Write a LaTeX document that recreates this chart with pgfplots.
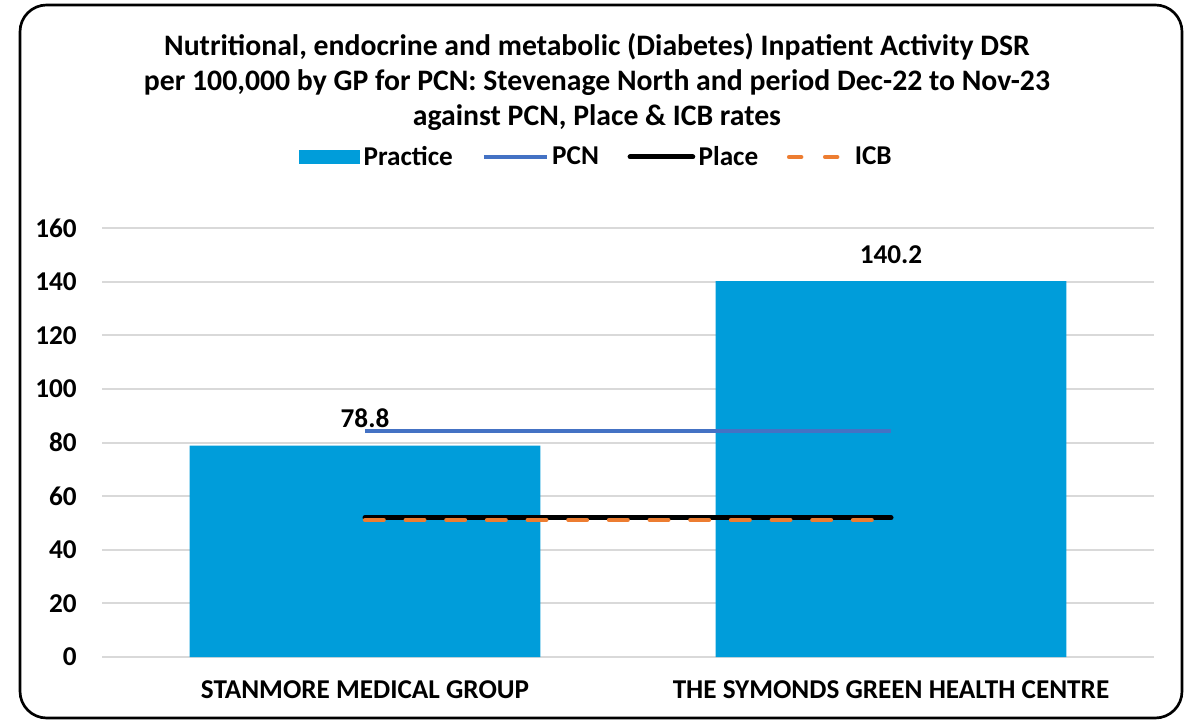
\documentclass[border=0pt]{standalone}
\usepackage{pgfplots}
\pgfplotsset{compat=1.18}
\usepackage{fontspec}
\setmainfont{Carlito}
\definecolor{practice}{RGB}{0,157,218}
\definecolor{pcn}{RGB}{68,114,196}
\definecolor{icb}{RGB}{237,125,49}
\definecolor{gridgray}{RGB}{217,217,217}
\newcommand{\chartfont}{\fontsize{20.4}{26.25}\selectfont\bfseries}
\newcommand{\titlefont}{\fontsize{22.3}{26.6}\selectfont\bfseries}
\begin{document}
\begin{tikzpicture}
% 1px = 0.75pt, axis box lower left at (0,0)
\useasboundingbox (-76.5pt,-48pt) rectangle (819pt,492.75pt);
\begin{axis}[
  scale only axis,
  width=789pt, height=321.75pt,
  xmin=-0.5, xmax=1.5,
  ymin=0, ymax=160,
  xtick={0,1},
  xticklabels={STANMORE MEDICAL GROUP, THE SYMONDS GREEN HEALTH CENTRE},
  ytick={0,20,...,160},
  ymajorgrids=true,
  grid style={line width=1.5pt, color=gridgray},
  axis line style={draw=none},
  tick style={draw=none},
  ticklabel style={font=\chartfont},
  /pgf/number format/assume math mode=true,
  yticklabel style={inner sep=0pt, xshift=-18.75pt},
  xticklabel style={anchor=base, inner sep=0pt, yshift=-30.75pt},
  title={Nutritional, endocrine and metabolic (Diabetes) Inpatient Activity DSR\\per 100,000 by GP for PCN: Stevenage North and period Dec-22 to Nov-23\\against PCN, Place \& ICB rates},
  title style={at={(rel axis cs:0.4705,1)}, anchor=center, yshift=103.5pt, align=center, font=\titlefont},
  legend columns=4,
  legend style={draw=none, fill=none, at={(rel axis cs:0.4705,1)}, yshift=53.25pt, anchor=center,
    font=\chartfont, nodes={inner sep=2.5pt},
    /tikz/every even column/.append style={column sep=19pt}},
]
\addplot[ybar, bar width=263pt, fill=practice, draw=none,
  nodes near coords,
  nodes near coords style={font=\chartfont, inner sep=0pt, yshift=13pt, /pgf/number format/assume math mode=true},
  legend image code/.code={\fill[practice] (0pt,-5pt) rectangle (46pt,5pt);}]
  coordinates {(0,78.8) (1,140.2)};
\addlegendentry{Practice}
\addplot[color=pcn, line width=3.4pt,
  legend image code/.code={\draw[color=pcn, line width=3.4pt] (0pt,0pt) -- (47pt,0pt);}]
  coordinates {(0,84.3) (1,84.3)};
\addlegendentry{PCN}
\addplot[color=black, line width=3.75pt, line cap=round,
  legend image code/.code={\draw[color=black, line width=3.75pt] (0pt,0pt) -- (47pt,0pt);}]
  coordinates {(0,51.9) (1,51.9)};
\addlegendentry{Place}
\addplot[color=icb, line width=3.2pt, line cap=round, dash pattern=on 14pt off 16.5pt,
  legend image code/.code={\draw[color=icb, line width=3.4pt, line cap=round, dash pattern=on 9pt off 18pt] (2pt,0pt) -- (47pt,0pt);}]
  coordinates {(0,51.1) (1,51.1)};
\addlegendentry{ICB}
\end{axis}
\draw[line width=2pt, rounded corners=20pt] (-61.5pt,-45.75pt) rectangle (810pt,489pt);
\end{tikzpicture}
\end{document}
